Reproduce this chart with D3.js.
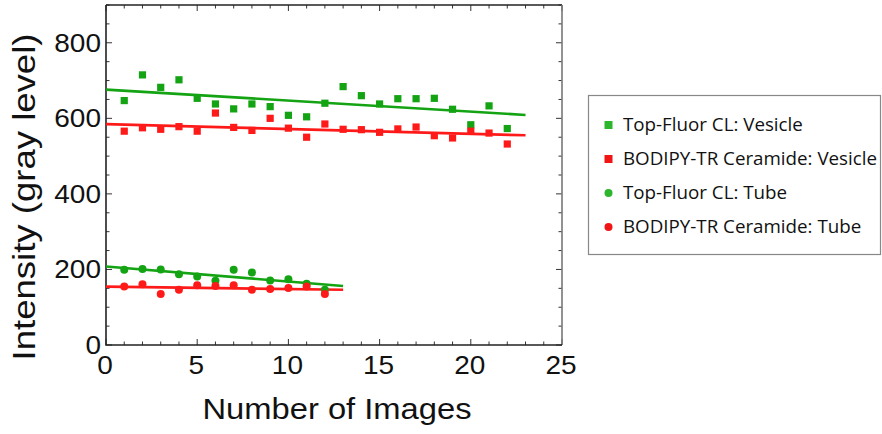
<!DOCTYPE html>
<html>
<head>
<meta charset="utf-8">
<script src="https://cdn.jsdelivr.net/npm/d3@7"></script>
<style>
  body { margin: 0; background: #fff; }
  svg { display: block; }
  .tick-label { font-family: "Liberation Sans", Arial, sans-serif; font-size: 25px; fill: #111; }
  .axis-title { font-family: "Liberation Sans", Arial, sans-serif; font-size: 29px; fill: #111; }
  .legend-text { font-family: "Open Sans", "Noto Sans", sans-serif; font-size: 18px; fill: #111; }
</style>
</head>
<body>
<div class="display"></div>
<script>
// Intensity vs number of images, vesicle and tube, two dyes

const WIDTH = 882;
const HEIGHT = 434;

const xTicks = [0, 5, 10, 15, 20, 25];
const yTicks = [0, 200, 400, 600, 800];

const vesicleImages = d3.range(1, 23);
const greenVesicle = [647, 715, 682, 702, 653, 638, 625, 638, 631, 608, 604, 640,
  684, 660, 638, 652, 652, 653, 624, 583, 633, 573];
const redVesicle = [566, 575, 571, 578, 566, 614, 576, 568, 600, 574, 550, 585,
  571, 570, 563, 572, 577, 554, 548, 566, 561, 532];

const tubeImages = d3.range(1, 13);
const greenTube = [199, 201, 200, 187, 181, 170, 199, 192, 171, 174, 162, 146];
const redTube = [155, 161, 135, 146, 158, 156, 158, 146, 148, 151, 155, 135];

// x span of the fitted lines
const vesicleFitRange = [0, 23];
const tubeFitRange = [0, 13];

const legendLabels = [
  'Top-Fluor CL: Vesicle',
  'BODIPY-TR Ceramide: Vesicle',
  'Top-Fluor CL: Tube',
  'BODIPY-TR Ceramide: Tube'
];

const GREEN = '#13a313';
const RED = '#ff1a1a';

const series = [
  { xs: vesicleImages, ys: greenVesicle, color: GREEN, shape: 'square', range: vesicleFitRange },
  { xs: vesicleImages, ys: redVesicle, color: RED, shape: 'square', range: vesicleFitRange },
  { xs: tubeImages, ys: greenTube, color: GREEN, shape: 'circle', range: tubeFitRange },
  { xs: tubeImages, ys: redTube, color: RED, shape: 'circle', range: tubeFitRange }
];

const plot = { left: 106, right: 562, top: 5, bottom: 345 };

const x = d3.scaleLinear().domain([0, 25]).range([plot.left, plot.right]);
const y = d3.scaleLinear().domain([0, 900]).range([plot.bottom, plot.top]);

const svg = d3.select('.display')
  .append('svg')
  .attr('width', WIDTH)
  .attr('height', HEIGHT);

// least squares fit
function linFit(xs, ys) {
  const mx = d3.mean(xs), my = d3.mean(ys);
  let sxy = 0, sxx = 0;
  xs.forEach((v, i) => { sxy += (v - mx) * (ys[i] - my); sxx += (v - mx) * (v - mx); });
  const b = sxy / sxx;
  return t => my + b * (t - mx);
}

// the original text is a bit wider than Arial, widen along the baseline
function widen(sel, k) {
  sel.each(function() {
    const w = this.getComputedTextLength();
    d3.select(this).attr('textLength', w * k).attr('lengthAdjust', 'spacingAndGlyphs');
  });
}

// ticks (inward, mirrored on top and right)
const minorX = d3.range(0, 26, 1);
const minorY = d3.range(0, 901, 50);

const axes = svg.append('g').attr('stroke', '#333').attr('stroke-width', 1);

axes.selectAll('.xb')
  .data(minorX)
  .enter().append('line')
  .attr('x1', d => x(d)).attr('x2', d => x(d))
  .attr('y1', plot.bottom).attr('y2', d => plot.bottom - (d % 5 == 0 ? 6 : 3.5));
axes.selectAll('.xt')
  .data(minorX)
  .enter().append('line')
  .attr('x1', d => x(d)).attr('x2', d => x(d))
  .attr('y1', plot.top).attr('y2', d => plot.top + (d % 5 == 0 ? 6 : 3.5));
axes.selectAll('.yl')
  .data(minorY)
  .enter().append('line')
  .attr('y1', d => y(d)).attr('y2', d => y(d))
  .attr('x1', plot.left).attr('x2', d => plot.left + (d % 200 == 0 ? 6 : 3.5));
axes.selectAll('.yr')
  .data(minorY)
  .enter().append('line')
  .attr('y1', d => y(d)).attr('y2', d => y(d))
  .attr('x1', plot.right).attr('x2', d => plot.right - (d % 200 == 0 ? 6 : 3.5));

// frame
svg.append('path')
  .attr('d', `M${plot.left},${plot.top}H${plot.right}`)
  .attr('stroke', '#222').attr('stroke-width', 1.6);
svg.append('path')
  .attr('d', `M${plot.right},${plot.top}V${plot.bottom}`)
  .attr('stroke', '#777').attr('stroke-width', 1.6);
svg.append('path')
  .attr('d', `M${plot.left},${plot.top}V${plot.bottom}H${plot.right}`)
  .attr('fill', 'none')
  .attr('stroke', '#222').attr('stroke-width', 1.6);

// tick labels
svg.selectAll('.xlab')
  .data(xTicks)
  .enter().append('text')
  .attr('class', 'tick-label')
  .attr('x', d => x(d) - 1)
  .attr('y', 374)
  .attr('text-anchor', 'middle')
  .text(d => d)
  .call(widen, 1.12);

svg.selectAll('.ylab')
  .data(yTicks)
  .enter().append('text')
  .attr('class', 'tick-label')
  .attr('x', 101)
  .attr('y', d => y(d) + 9)
  .attr('text-anchor', 'end')
  .text(d => d)
  .call(widen, 1.12);

svg.append('text')
  .attr('class', 'axis-title')
  .attr('x', 337)
  .attr('y', 419)
  .attr('text-anchor', 'middle')
  .attr('textLength', 269)
  .attr('lengthAdjust', 'spacingAndGlyphs')
  .text('Number of Images');

svg.append('text')
  .attr('class', 'axis-title')
  .style('font-size', '30.5px')
  .attr('transform', 'translate(35,197) rotate(-90)')
  .attr('text-anchor', 'middle')
  .attr('textLength', 327)
  .attr('lengthAdjust', 'spacingAndGlyphs')
  .text('Intensity (gray level)');

// fitted lines
const lines = svg.append('g');
series.forEach(s => {
  const f = linFit(s.xs, s.ys);
  lines.append('line')
    .attr('x1', x(s.range[0])).attr('y1', y(f(s.range[0])))
    .attr('x2', x(s.range[1])).attr('y2', y(f(s.range[1])))
    .attr('stroke', s.color)
    .attr('stroke-width', 2.6);
});

// markers
const marks = svg.append('g');
series.forEach(s => {
  const pts = s.xs.map((v, i) => [v, s.ys[i]]);
  if (s.shape == 'square') {
    marks.selectAll(null)
      .data(pts)
      .enter().append('rect')
      .attr('x', d => x(d[0]) - 3.6)
      .attr('y', d => y(d[1]) - 3.6)
      .attr('width', 7.2).attr('height', 7.2)
      .attr('fill', s.color);
  } else {
    marks.selectAll(null)
      .data(pts)
      .enter().append('circle')
      .attr('cx', d => x(d[0]))
      .attr('cy', d => y(d[1]))
      .attr('r', 4)
      .attr('fill', s.color);
  }
});

// legend
const legend = svg.append('g');
legend.append('rect')
  .attr('x', 588.5).attr('y', 95.5)
  .attr('width', 292).attr('height', 159)
  .attr('fill', '#fff')
  .attr('stroke', '#888').attr('stroke-width', 1.2);

const legendColors = ['#2db52d', '#f01414', '#2db52d', '#f01414'];
const rowY = d3.scalePoint().domain(d3.range(4)).range([125, 227]);

legendLabels.forEach((lab, i) => {
  const cy = rowY(i);
  if (i < 2) {
    legend.append('rect')
      .attr('x', 604.5).attr('y', cy - 4)
      .attr('width', 8).attr('height', 8)
      .attr('fill', legendColors[i]);
  } else {
    legend.append('circle')
      .attr('cx', 608.5).attr('cy', cy)
      .attr('r', 4)
      .attr('fill', legendColors[i]);
  }
  legend.append('text')
    .attr('class', 'legend-text')
    .attr('x', 623)
    .attr('y', cy + 6)
    .text(lab);
});

// match the longest legend line's width in the original
const legendTexts = legend.selectAll('text');
const longest = d3.max(legendTexts.nodes(), n => n.getComputedTextLength());
legendTexts.call(widen, 254 / longest);
</script>
</body>
</html>
